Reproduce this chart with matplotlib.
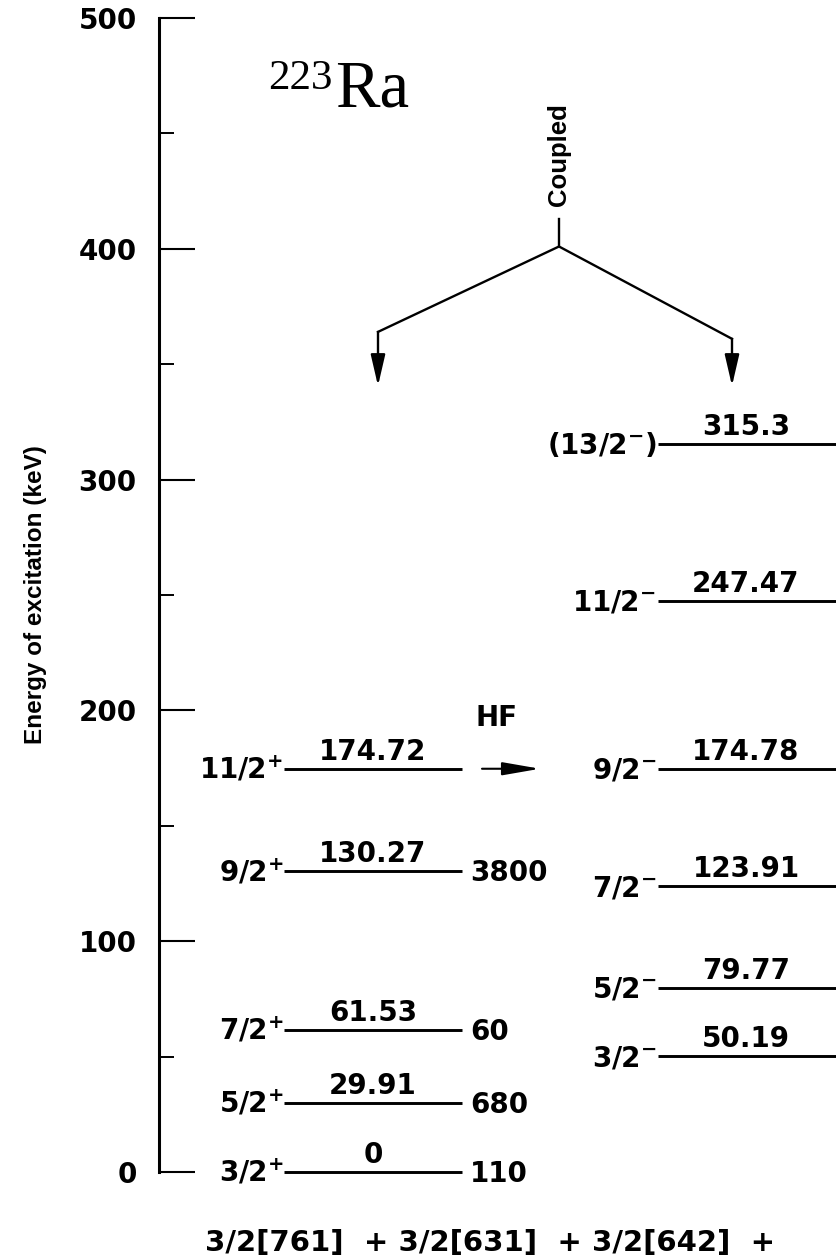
import matplotlib
matplotlib.use("Agg")
import matplotlib.pyplot as plt

# ---- level scheme data (keV) ----
pos_spins = ["3/2$^{+}$", "5/2$^{+}$", "7/2$^{+}$", "9/2$^{+}$", "11/2$^{+}$"]
pos_energy_labels = ["0", "29.91", "61.53", "130.27", "174.72"]
pos_intensities = ["110", "680", "60", "3800", ""]

neg_spins = ["3/2$^{-}$", "5/2$^{-}$", "7/2$^{-}$", "9/2$^{-}$", "11/2$^{-}$",
             "(13/2$^{-}$)"]
neg_energy_labels = ["50.19", "79.77", "123.91", "174.78", "247.47", "315.3"]

major_ticks = [0, 100, 200, 300, 400, 500]
minor_ticks = [50, 150, 250, 350, 450]

axis_label = "Energy of excitation (keV)"
config_text = "3/2[761]  + 3/2[631]  + 3/2[642]  +"

pos_energies = [float(s) for s in pos_energy_labels]
neg_energies = [float(s) for s in neg_energy_labels]

plt.rcParams["mathtext.fontset"] = "dejavusans"
plt.rcParams["mathtext.default"] = "bf"

bold = dict(family="DejaVu Sans", weight="bold", size=20, color="black")
sans = dict(family="Liberation Sans", weight="bold", color="black")

W, H = 836, 1259
fig = plt.figure(figsize=(W / 100, H / 100), dpi=100)
fig.patch.set_facecolor("white")

# axes spans from the energy axis line to the right edge; x in layout units
ax = fig.add_axes([159 / W, (H - 1172) / H, 1 - 159 / W, (1172 - 18) / H])
ax.set_xlim(159, 836)
ax.set_ylim(0, 500)
for side in ("top", "right", "bottom"):
    ax.spines[side].set_visible(False)
ax.spines["left"].set_linewidth(2.2)
ax.set_xticks([])
ax.set_yticks(major_ticks)
ax.set_yticks(minor_ticks, minor=True)
ax.tick_params(axis="y", which="major", direction="in", length=26, width=1.5,
               pad=16)
ax.tick_params(axis="y", which="minor", direction="in", length=11, width=1.4)
for lab in ax.get_yticklabels():
    lab.set_fontfamily(bold["family"])
    lab.set_fontweight("bold")
    lab.set_fontsize(bold["size"])

ax.set_ylabel(axis_label, size=17.5, **sans)
ax.yaxis.set_label_coords((47 - 159) / 677, 0.5)

# ---- positive-parity band ----
ax.hlines(pos_energies, 284, 462, color="black", lw=2.1, clip_on=False)
for spin, lbl, inten, e in zip(pos_spins, pos_energy_labels, pos_intensities,
                               pos_energies):
    ax.annotate(lbl, (373, e), xytext=(0, 6.5), textcoords="offset points",
                ha="center", va="baseline", **bold)
    ax.annotate(spin, (283, e), xytext=(0, -7.2), textcoords="offset points",
                ha="right", va="baseline", **bold)
    if inten:
        ax.annotate(inten, (470, e), xytext=(0, -7.2),
                    textcoords="offset points", ha="left", va="baseline",
                    **bold)

# ---- negative-parity band ----
ax.hlines(neg_energies, 658, 840, color="black", lw=2.1, clip_on=False)
for spin, lbl, e in zip(neg_spins, neg_energy_labels, neg_energies):
    ax.annotate(lbl, (746, e), xytext=(0, 6.5), textcoords="offset points",
                ha="center", va="baseline", **bold)
    ax.annotate(spin, (656, e), xytext=(0, -7.2), textcoords="offset points",
                ha="right", va="baseline", **bold)

# ---- hyperfine arrow between the two bands ----
hf_level = pos_energies[-1]
ax.annotate("", xy=(540, hf_level), xytext=(482, hf_level),
            arrowprops=dict(arrowstyle="-|>,head_length=1.15,head_width=0.2",
                            mutation_scale=20, lw=1.5, color="black",
                            shrinkA=0, shrinkB=0))
ax.text(496, 196.5, "HF", ha="center", va="center", **bold)

# ---- "Coupled" bracket ----
ax.text(559, 440.8, "Coupled", rotation=90, ha="center", va="center",
        size=18.5, **sans)
ax.plot([559, 559], [413, 401], color="black", lw=1.7)
ax.plot([378, 559, 732], [364, 401, 361], color="black", lw=1.7,
        solid_joinstyle="miter")
for x0, y0 in ((378, 364), (732, 361)):
    ax.annotate("", xy=(x0, 340.6), xytext=(x0, y0),
                arrowprops=dict(arrowstyle="-|>,head_length=0.95,head_width=0.22",
                                mutation_scale=20, lw=1.7, color="black",
                                shrinkA=0, shrinkB=0))

# ---- nuclide title ----
ax.text(268, 469.4, "223", family="Liberation Serif", size=31,
        ha="left", va="baseline")
ax.text(335, 461.6, "Ra", family="Liberation Serif", size=48,
        ha="left", va="baseline")

# ---- Nilsson configuration line ----
ax.text(205, -34.3, config_text, ha="left", va="baseline",
        family="DejaVu Sans", weight="bold", size=21, color="black")

fig.savefig("out.png", dpi=100, facecolor="white")
